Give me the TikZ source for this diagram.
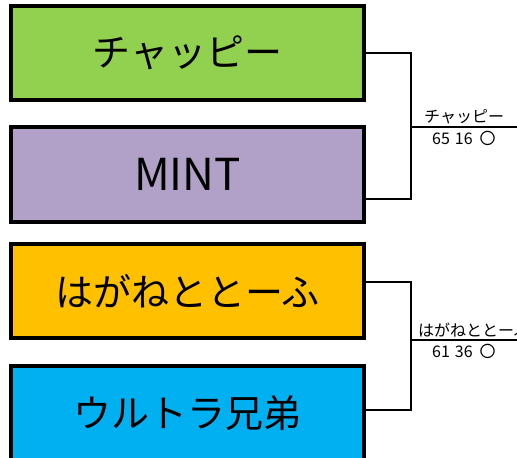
\documentclass[tikz,border=0pt]{standalone}
\usepackage{fontspec}
\newfontfamily\jp{Noto Sans CJK JP}
\usepackage{tikz}
\usetikzlibrary{positioning, calc}
\definecolor{cgreen}{HTML}{92D050}
\definecolor{cpurple}{HTML}{B1A0C7}
\definecolor{corange}{HTML}{FFC000}
\definecolor{cblue}{HTML}{00B0F0}
\tikzset{team/.style = {rectangle,draw,line width=4pt,minimum width=353pt,minimum height=94pt,inner sep=0pt,font=\jp\fontsize{38}{40}\selectfont},
         wire/.style = {line width=1.8pt},
         score/.style = {inner sep=0pt,font=\jp\fontsize{16}{17}\selectfont}}

\begin{document}
\begin{tikzpicture}[x=1pt,y=1pt]
                    \useasboundingbox (0,0) rectangle (517,-458);
                    \node[team,fill=cgreen] (chappy) at (187.5,-53) {チャッピー};
                    \node[team,fill=cpurple,minimum height=95pt,font=\jp\fontsize{44}{46}\selectfont] (mint) at (187.5,-174.5) {MINT};
                    \node[team,fill=corange] (hagane) at (187.5,-291) {はがねととーふ};
                    \node[team,fill=cblue] (ultra) at (187.5,-413) {ウルトラ兄弟};
                    \coordinate (j1) at (411,-127);
                    \coordinate (j2) at (411,-340);
                    \coordinate (w1) at (520,-127);
                    \coordinate (w2) at (520,-340);
                    \draw[wire] (chappy.east) -| (j1);
                    \draw[wire] ([yshift=25pt]mint.south east) -| (j1);
                    \draw[wire] (j1) -- (w1);
                    \draw[wire] ([yshift=9pt]hagane.east) -| (j2);
                    \draw[wire] ([yshift=3pt]ultra.east) -| (j2);
                    \draw[wire] (j2) -- (w2);
                    \node[score,anchor=south west] (win1) at ([xshift=13pt,yshift=3pt]j1) {チャッピー};
                    \node[score,anchor=north west] (res1) at ([xshift=21pt,yshift=-4pt]j1) {65\hspace{5pt}16\hspace{7pt}〇};
                    \node[score,anchor=south west] (win2) at ([xshift=7pt,yshift=3pt]j2) {はがねととーふ};
                    \node[score,anchor=north west] (res2) at ([xshift=21pt,yshift=-4pt]j2) {61\hspace{5pt}36\hspace{7pt}〇};
                \end{tikzpicture}
\end{document}
